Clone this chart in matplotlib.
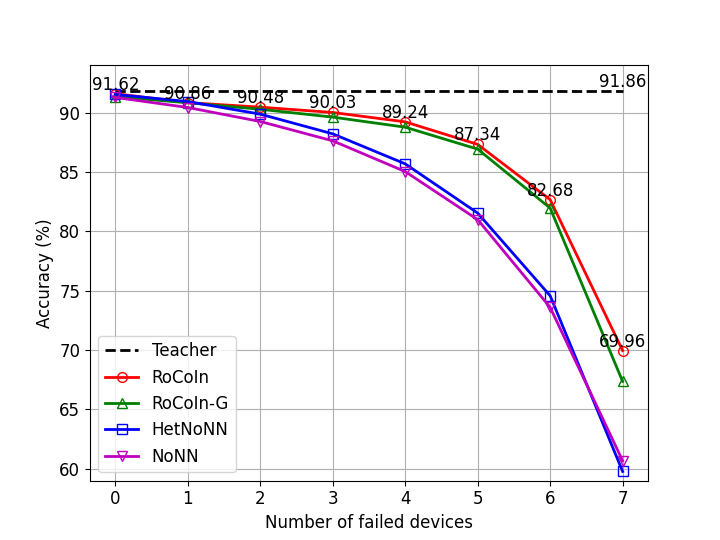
import matplotlib
matplotlib.use("Agg")
import matplotlib.pyplot as plt

# datos
fallas = [0, 1, 2, 3, 4, 5, 6, 7]
teacher = [91.86] * 8
rocoin = [91.62, 90.86, 90.48, 90.03, 89.24, 87.34, 82.68, 69.96]
rocoin_g = [91.35, 90.85, 90.3, 89.64, 88.79, 86.94, 81.97, 67.36]
hetnonn = [91.55, 90.95, 89.89, 88.23, 85.7, 81.55, 74.58, 59.77]
nonn = [91.3, 90.45, 89.27, 87.64, 85.05, 81.0, 73.6, 60.67]

plt.figure(figsize=(7.2, 5.4), dpi=100)

plt.plot(fallas, teacher, 'k--', linewidth=2, label='Teacher')
plt.plot(fallas, rocoin, 'r-o', linewidth=2, fillstyle='none', markersize=7, label='RoCoIn')
plt.plot(fallas, rocoin_g, 'g-^', linewidth=2, fillstyle='none', markersize=7, label='RoCoIn-G')
plt.plot(fallas, hetnonn, 'b-s', linewidth=2, fillstyle='none', markersize=7, label='HetNoNN')
plt.plot(fallas, nonn, 'm-v', linewidth=2, fillstyle='none', markersize=7, label='NoNN')

# etiquetas de valores de RoCoIn y del teacher
for x, y in zip(fallas, rocoin):
    plt.text(x, y, f'{y:.2f}', ha='center', va='bottom', fontsize=12)
plt.text(fallas[-1], teacher[-1], f'{teacher[-1]:.2f}', ha='center', va='bottom', fontsize=12)

plt.ylim(59, 94.05)
plt.xlabel('Number of failed devices', fontsize=12)
plt.ylabel('Accuracy (%)', fontsize=12)
plt.xticks(fontsize=12)
plt.yticks(fontsize=12)
plt.grid(True)
plt.legend(fontsize=12, loc='lower left')

plt.savefig('out.png')
